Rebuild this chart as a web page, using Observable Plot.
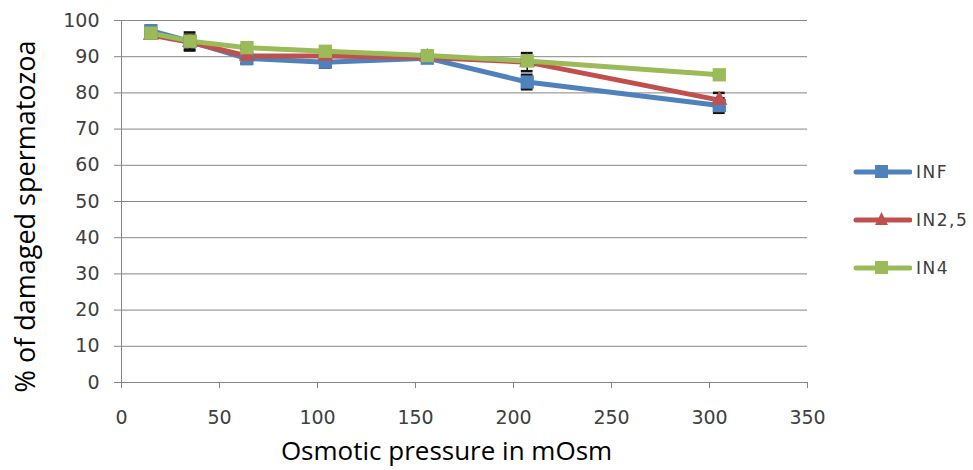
<!DOCTYPE html>
<html>
<head>
<meta charset="utf-8">
<script src="https://cdn.jsdelivr.net/npm/d3@7"></script>
<script src="https://cdn.jsdelivr.net/npm/@observablehq/plot@0.6"></script>
<style>
  html, body { margin: 0; padding: 0; background: #fff; overflow: hidden; }
  #wrap { position: relative; width: 973px; height: 470px; overflow: hidden; }
  #legend { position: absolute; left: 853px; top: 160px; font-family: "DejaVu Sans", Verdana, sans-serif; font-size: 17px; color: #404040; letter-spacing: 1.5px; white-space: nowrap; }
  .item { display: flex; align-items: center; height: 24px; margin-bottom: 24px; }
  .item span { margin-left: 4px; }
</style>
</head>
<body>
<div id="wrap"><div id="legend"></div></div>
<script>
const pressure = [15, 35, 64, 104, 156, 207, 305];
const seriesNames = ["INF", "IN2,5", "IN4"];
const valINF  = [97.2, 94.2, 89.5, 88.5, 89.6, 83, 76.5];
const valIN25 = [96, 94, 90.2, 90.2, 89.8, 88.5, 78];
const valIN4  = [96.5, 94.3, 92.5, 91.5, 90.3, 88.8, 85];
const errINF  = [1, 2.5, 1.5, 1.5, 0.5, 2, 2];
const errIN25 = [1, 2, 2, 1, 0.5, 2.5, 2];
const errIN4  = [0.5, 1, 0.5, 0.5, 0.5, 0.5, 0.5];
const colors = ["#4F81BD", "#C0504D", "#9BBB59"];
const symbols = ["square", "triangle", "square"];
const xTicks = [0, 50, 100, 150, 200, 250, 300, 350];
const yTicks = [0, 10, 20, 30, 40, 50, 60, 70, 80, 90, 100];

const vals = [valINF, valIN25, valIN4];
const errs = [errINF, errIN25, errIN4];
const rows = [];
seriesNames.forEach((s, i) => pressure.forEach((p, j) => rows.push({series: s, x: p, y: vals[i][j], e: errs[i][j]})));

const fontTick = "DejaVu Sans, Verdana, sans-serif";
const marks = [
  Plot.gridY(yTicks, {stroke: "#868686", strokeOpacity: 1, strokeWidth: 1}),
  Plot.ruleX([0], {stroke: "#868686", strokeWidth: 1}),
  Plot.axisY(yTicks, {tickSize: 7, stroke: "#868686", tickPadding: 15, fontSize: 19, fill: "#404040", label: null, fontFamily: fontTick, letterSpacing: 1.5}),
  Plot.axisX(xTicks, {tickSize: 6, stroke: "#868686", tickPadding: 22, fontSize: 19, fill: "#404040", label: null, fontFamily: fontTick, letterSpacing: 1.5}),
  Plot.ruleY([0], {stroke: "#868686", strokeWidth: 1}),
];
seriesNames.forEach((s, i) => {
  const d = rows.filter(r => r.series === s);
  marks.push(Plot.line(d, {x: "x", y: "y", stroke: colors[i], strokeWidth: 5}));
  marks.push(Plot.ruleX(d, {x: "x", y1: r => r.y - r.e, y2: r => r.y + r.e, stroke: "#111", strokeWidth: 1.5}));
  marks.push(Plot.ruleY(d, {y: r => r.y - r.e, x1: r => r.x - 3, x2: r => r.x + 3, stroke: "#111", strokeWidth: 2.5}));
  marks.push(Plot.ruleY(d, {y: r => r.y + r.e, x1: r => r.x - 3, x2: r => r.x + 3, stroke: "#111", strokeWidth: 2.5}));
});
seriesNames.forEach((s, i) => {
  const d = rows.filter(r => r.series === s);
  marks.push(Plot.dot(d, {x: "x", y: "y", fill: colors[i], stroke: "none", symbol: () => symbols[i], r: i === 1 ? 6 : 7.5}));
});
marks.push(Plot.text(["% of damaged spermatozoa"], {frameAnchor: "left", textAnchor: "middle", dx: -95, dy: 15, rotate: -90, fontSize: 27, fill: "#000", fontFamily: "Open Sans, sans-serif"}));
marks.push(Plot.text(["Osmotic pressure in mOsm"], {frameAnchor: "bottom", dx: -18, dy: 77, fontSize: 26, fill: "#000", fontFamily: "Open Sans, sans-serif"}));

const chart = Plot.plot({
  width: 973,
  height: 470,
  marginLeft: 121,
  marginRight: 166,
  marginTop: 20,
  marginBottom: 88,
  x: {domain: [0, 350]},
  y: {domain: [0, 100]},
  style: {background: "#fff", overflow: "visible"},
  marks
});
document.getElementById("wrap").prepend(chart);

const legend = document.getElementById("legend");
seriesNames.forEach((s, i) => {
  const item = document.createElement("div");
  item.className = "item";
  const sym = symbols[i] === "square"
    ? `<rect x="22" y="5" width="13" height="13" fill="${colors[i]}"/>`
    : `<path d="M28.5,4 L35,17 L22,17 Z" fill="${colors[i]}"/>`;
  item.innerHTML = `<svg width="59" height="24"><line x1="3" x2="57" y1="12" y2="12" stroke="${colors[i]}" stroke-width="5" stroke-linecap="round"/>${sym}</svg><span>${s}</span>`;
  legend.appendChild(item);
});
</script>
</body>
</html>
